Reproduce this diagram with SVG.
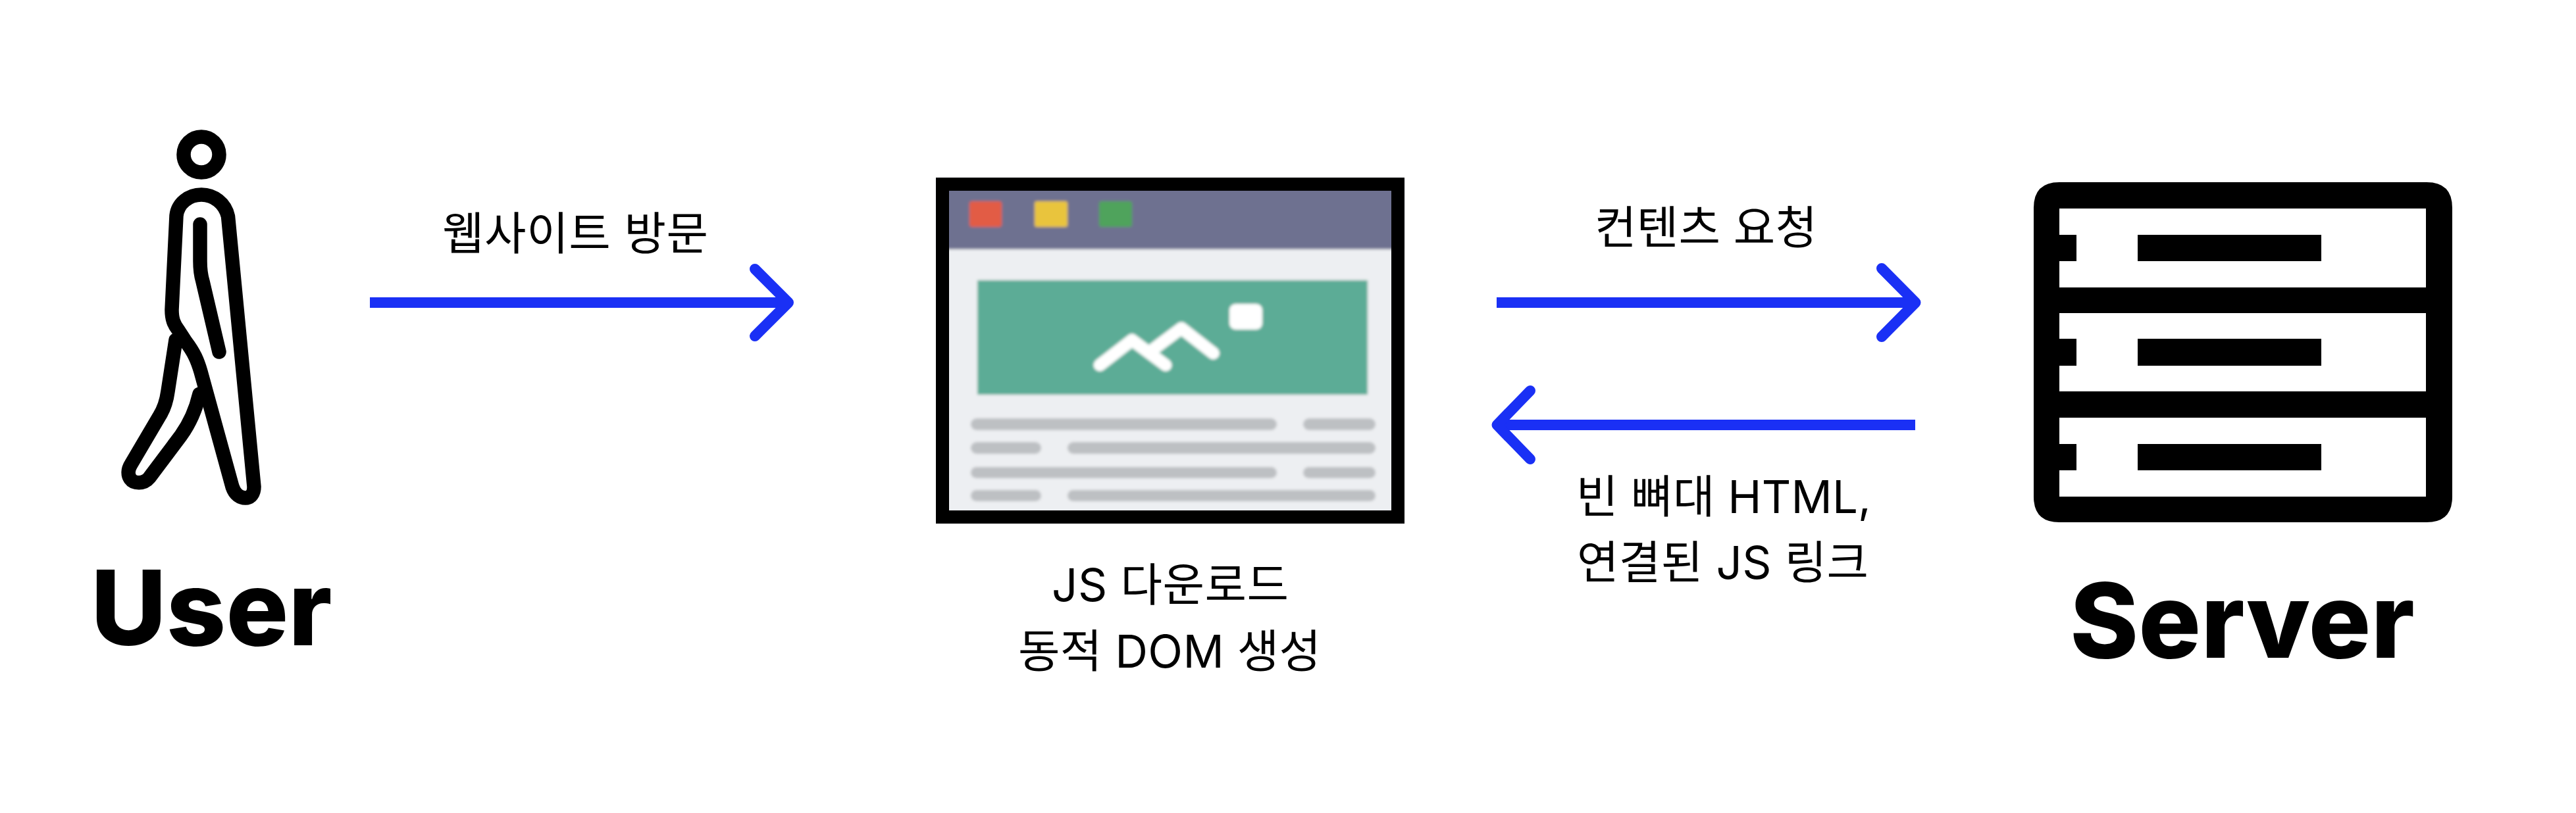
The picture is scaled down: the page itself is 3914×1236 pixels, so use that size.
<svg xmlns="http://www.w3.org/2000/svg" width="3914" height="1236" viewBox="0 0 3914 1236">
<style>
.lbl{font-family:"Inter","Noto Sans CJK KR",sans-serif;font-size:69px;fill:#000;font-weight:400}
.big{font-family:"Inter","Liberation Sans",sans-serif;font-size:158px;font-weight:800;fill:#000}
.conn{fill:none;stroke:#1a30f5;stroke-width:16}
.head{fill:none;stroke:#1a30f5;stroke-width:16;stroke-linecap:round;stroke-linejoin:round}
.ink{fill:none;stroke:#000;stroke-width:21.5;stroke-linecap:round;stroke-linejoin:round}
.bar{fill:#bdc0c3}
</style>
<defs><filter id="soft" x="-5%" y="-5%" width="110%" height="110%"><feGaussianBlur stdDeviation="2"/></filter></defs>
<rect width="3914" height="1236" fill="#fff"/>
<g id="user">
<circle class="ink" cx="306" cy="235" r="27"/>
<path class="ink" d="M346.5 329C342 309 325 296 306 296C287 296 270 309 268 328L261 471C261 485 264 493 271 502L282 519C295 536 300 548 305 565L353 740C357 752 365 757 373 757C381 757 386 750 386 740Z"/>
<path class="ink" d="M304 341V397C304 410 305 418 308 428L333 535"/>
<path class="ink" d="M267 517L255 595C253 610 249 622 242 633L199 706C194 714 194 722 198 728C203 735 218 737 227 726L275 662C285 648 297 625 303 599"/>
<text class="big" x="138" y="981">User</text>
</g>
<g id="browser">
<g filter="url(#soft)">
<rect x="1425" y="273" width="706" height="520" fill="#edeff2"/>
<rect x="1425" y="273" width="706" height="106" fill="#6e7190"/>
<rect x="1473" y="306" width="49" height="39" rx="4" fill="#e25c45"/>
<rect x="1572" y="306" width="50" height="39" rx="3" fill="#e9c43e"/>
<rect x="1670" y="306" width="50" height="39" rx="4" fill="#4fa35c"/>
<rect x="1485" y="426" width="593" height="174" fill="#5bac96"/>
<rect x="1868" y="462" width="50" height="39" rx="9" fill="#fff"/>
<path d="M1671 555L1720 517L1771 555M1751 532L1795 499L1843.5 537" fill="none" stroke="#fff" stroke-width="19" stroke-linecap="round" stroke-linejoin="round"/>
<rect class="bar" x="1475" y="636" width="465" height="18" rx="9"/>
<rect class="bar" x="1980" y="636" width="110" height="18" rx="9"/>
<rect class="bar" x="1475" y="672" width="107" height="18" rx="9"/>
<rect class="bar" x="1622" y="672" width="468" height="18" rx="9"/>
<rect class="bar" x="1475" y="710" width="465" height="17" rx="8.5"/>
<rect class="bar" x="1980" y="710" width="110" height="17" rx="8.5"/>
<rect class="bar" x="1475" y="745" width="107" height="17" rx="8.5"/>
<rect class="bar" x="1622" y="745" width="468" height="17" rx="8.5"/>
</g>
<path d="M1422 270H2134V796H1422ZM1442 290V776H2114V290Z" fill="#000" fill-rule="evenodd"/>
<text class="lbl" x="1598" y="914" textLength="360">JS 다운로드</text>
<text class="lbl" x="1547" y="1015" textLength="460">동적 DOM 생성</text>
</g>
<g id="server">
<path fill-rule="evenodd" fill="#000" d="M3129 277H3687Q3726 277 3726 316V755Q3726 794 3687 794H3129Q3090 794 3090 755V316Q3090 277 3129 277ZM3129 317V357H3155V397H3129V437H3686V317ZM3129 476V515H3155V556H3129V595H3686V476ZM3129 635V675H3155V715H3129V755H3686V635Z"/>
<rect x="3248" y="357" width="279" height="40"/>
<rect x="3248" y="515" width="279" height="41"/>
<rect x="3248" y="675" width="279" height="40"/>
<text class="big" x="3145" y="1000">Server</text>
</g>
<g id="connectors">
<path class="conn" d="M562 460H1198"/>
<path class="head" d="M1147 409L1198 460L1147 511"/>
<path class="conn" d="M2274 460H2910"/>
<path class="head" d="M2859 408L2910.5 460L2859 512"/>
<path class="conn" d="M2910 646H2275"/>
<path class="head" d="M2325 594L2274.5 646L2325 698"/>
</g>
<g id="labels">
<text class="lbl" x="672" y="380" textLength="404">웹사이트 방문</text>
<text class="lbl" x="2423" y="371" textLength="338">컨텐츠 요청</text>
<text class="lbl" x="2395" y="780" textLength="448">빈 뼈대 HTML,</text>
<text class="lbl" x="2396" y="880" textLength="443">연결된 JS 링크</text>
</g>
</svg>
